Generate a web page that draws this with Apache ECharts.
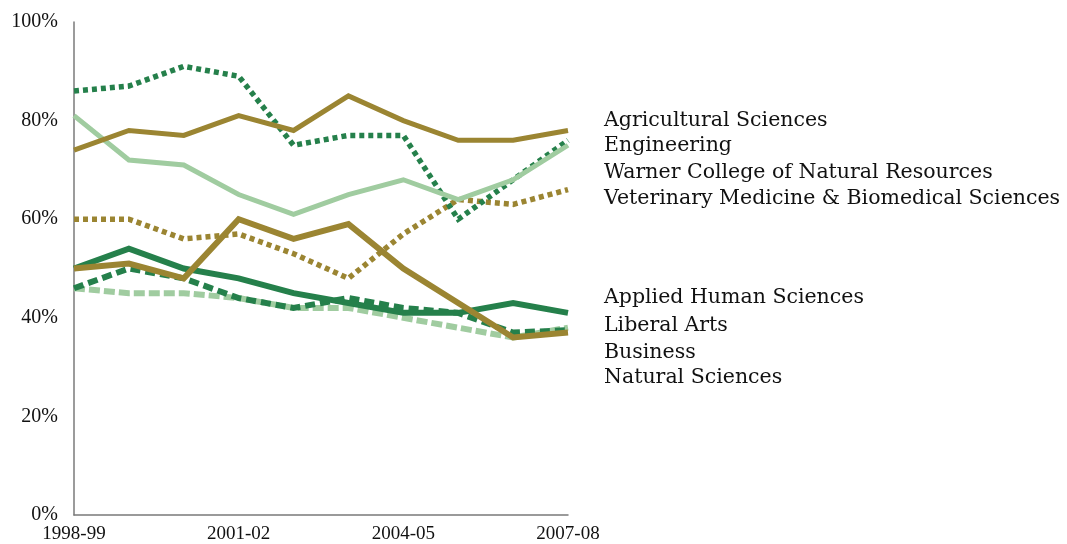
<!DOCTYPE html>
<html>
<head>
<meta charset="utf-8">
<script src="https://cdn.jsdelivr.net/npm/echarts@6/dist/echarts.min.js"></script>
<style>
html,body{margin:0;padding:0;background:#fff;}
#chart{width:1067px;height:544px;}
</style>
</head>
<body>
<div id="chart"></div>
<script>
var years = ['1998-99','1999-00','2000-01','2001-02','2002-03','2003-04','2004-05','2005-06','2006-07','2007-08'];

var agricultural = [74, 78, 77, 81, 78, 85, 80, 76, 76, 78];
var engineering  = [86, 87, 91, 89, 75, 77, 77, 60, 68, 76];
var warner       = [81, 72, 71, 65, 61, 65, 68, 64, 68, 75];
var veterinary   = [60, 60, 56, 57, 53, 48, 57, 64, 63, 66];
var appliedHuman = [50, 54, 50, 48, 45, 43, 41, 41, 43, 41];
var liberalArts  = [46, 45, 45, 44, 42, 42, 40, 38, 36, 38];
var business     = [46, 50, 48, 44, 42, 44, 42, 41, 37, 37.5];
var natural      = [50, 51, 48, 60, 56, 59, 50, 43, 36, 37];

var yTicks = [0, 20, 40, 60, 80, 100];
var labelsTop = ['Agricultural Sciences', 'Engineering', 'Warner College of Natural Resources', 'Veterinary Medicine & Biomedical Sciences'];
var labelsBottom = ['Applied Human Sciences', 'Liberal Arts', 'Business', 'Natural Sciences'];

var GOLD = '#9B8532', DKGREEN = '#25804B', LTGREEN = '#A0CCA0';

function line(name, data, color, width, dash) {
  return {
    name: name, type: 'line', data: data, symbol: 'none', silent: true,
    lineStyle: { color: color, width: width, type: dash || 'solid', cap: 'butt', join: 'miter' },
    animation: false
  };
}

var chart = echarts.init(document.getElementById('chart'));
var topY = [120, 145, 172, 198];
var botY = [297, 325, 352, 377];
var graphics = [];
labelsTop.forEach(function (t, i) {
  graphics.push({ type: 'text', left: 604, top: topY[i] - 10, style: { text: t, font: '20.5px "DejaVu Serif"', fill: '#111' } });
});
labelsBottom.forEach(function (t, i) {
  graphics.push({ type: 'text', left: 604, top: botY[i] - 10, style: { text: t, font: '20.5px "DejaVu Serif"', fill: '#111' } });
});

chart.setOption({
  animation: false,
  grid: { left: 74, right: 499, top: 22, bottom: 28, containLabel: false },
  xAxis: {
    type: 'category', data: years, boundaryGap: false,
    axisLine: { lineStyle: { color: '#7a7a7a', width: 1.5 } },
    axisTick: { show: false },
    axisLabel: { interval: 2, color: '#111', fontFamily: 'Liberation Serif', fontSize: 19, margin: 10 },
    splitLine: { show: false }
  },
  yAxis: {
    type: 'value', min: 0, max: 100, interval: 20,
    axisLine: { show: true, lineStyle: { color: '#7a7a7a', width: 1.5 } },
    axisTick: { show: false },
    splitLine: { show: false },
    axisLabel: { color: '#111', fontFamily: 'Liberation Serif', fontSize: 20, margin: 16,
      formatter: function (v) { return yTicks.indexOf(v) >= 0 ? v + '%' : ''; } }
  },
  series: [
    line(labelsBottom[1], liberalArts, LTGREEN, 6, [11, 4]),
    line(labelsBottom[2], business, DKGREEN, 6, [10, 5]),
    line(labelsTop[3], veterinary, GOLD, 5.5, [5, 4]),
    line(labelsTop[1], engineering, DKGREEN, 5.5, [5, 4]),
    line(labelsTop[2], warner, LTGREEN, 5),
    line(labelsBottom[0], appliedHuman, DKGREEN, 6),
    line(labelsTop[0], agricultural, GOLD, 5),
    line(labelsBottom[3], natural, GOLD, 6)
  ],
  graphic: graphics
});
</script>
</body>
</html>
